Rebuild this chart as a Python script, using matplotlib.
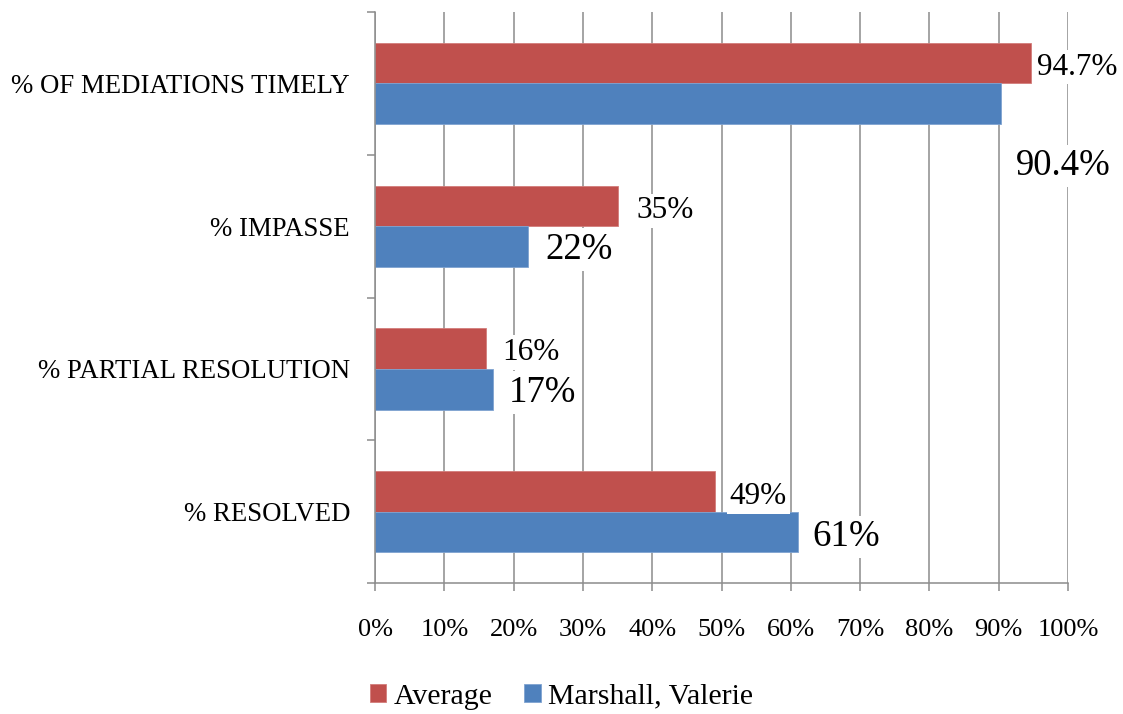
import matplotlib.pyplot as plt
import numpy as np
from matplotlib.ticker import FixedLocator, PercentFormatter

plt.rcParams['font.family'] = ['Liberation Serif', 'DejaVu Serif']

categories = ["% OF MEDIATIONS TIMELY", "% IMPASSE", "% PARTIAL RESOLUTION", "% RESOLVED"]
average = [94.7, 35, 16, 49]
marshall = [90.4, 22, 17, 61]
avg_labels = ["94.7%", "35%", "16%", "49%"]
mar_labels = ["90.4%", "22%", "17%", "61%"]

red = "#C0504D"
blue = "#4F81BD"
grid_col = "#8C8C8C"

fig = plt.figure(figsize=(11.23, 7.14), dpi=100)
ax = fig.add_axes([0.334, 0.1835, 0.617, 0.7995])

y = np.arange(len(categories))
h = 0.285
ax.barh(y - h/2, average, height=h, color=red, edgecolor="#D37D7A", linewidth=0.6, label="Average", zorder=2)
ax.barh(y + h/2, marshall, height=h, color=blue, edgecolor="#7FA3D1", linewidth=0.6, label="Marshall, Valerie", zorder=2)

# data label offsets in pixels (dx, dy), dy positive = up
avg_off = [(6, -4), (19, -5), (16, -4), (15, -5)]
mar_off = [(14, -62), (18, -3), (16, -3), (15, -5)]
for i in range(len(categories)):
    ax.annotate(avg_labels[i], (average[i], y[i] - h/2), xytext=avg_off[i], textcoords="offset pixels",
                ha="left", va="center", fontsize=22.5, zorder=4,
                bbox=dict(facecolor="white", edgecolor="none", pad=2))
    ax.annotate(mar_labels[i], (marshall[i], y[i] + h/2), xytext=mar_off[i], textcoords="offset pixels",
                ha="left", va="center", fontsize=26.5, zorder=4,
                bbox=dict(facecolor="white", edgecolor="none", pad=3))

ax.set_xlim(0, 100)
ax.set_ylim(len(categories) - 0.5, -0.5)
ax.set_xticks(np.arange(0, 101, 10))
ax.xaxis.set_major_formatter(PercentFormatter(decimals=0))
ax.set_yticks(y)
ax.set_yticklabels(categories)
ax.yaxis.set_minor_locator(FixedLocator(np.arange(-0.5, len(categories), 1)))

ax.tick_params(axis="y", which="major", length=0, pad=18, labelsize=19.3)
ax.tick_params(axis="y", which="minor", length=6, width=1.1, color=grid_col, direction="out")
ax.tick_params(axis="x", which="major", length=6, width=1.1, color=grid_col, pad=20, labelsize=19)

ax.xaxis.grid(True, color=grid_col, linewidth=1.1, zorder=1)
ax.set_axisbelow(True)
for s in ["top", "right"]:
    ax.spines[s].set_visible(False)
for s in ["left", "bottom"]:
    ax.spines[s].set_color(grid_col)
    ax.spines[s].set_linewidth(1.1)

fig.legend(loc="center", bbox_to_anchor=(0.5, 0.024), ncol=2, frameon=False, fontsize=21.5,
           handlelength=0.55, handleheight=0.55, handletextpad=0.25, columnspacing=1.05)

fig.savefig("out.png", dpi=100)
